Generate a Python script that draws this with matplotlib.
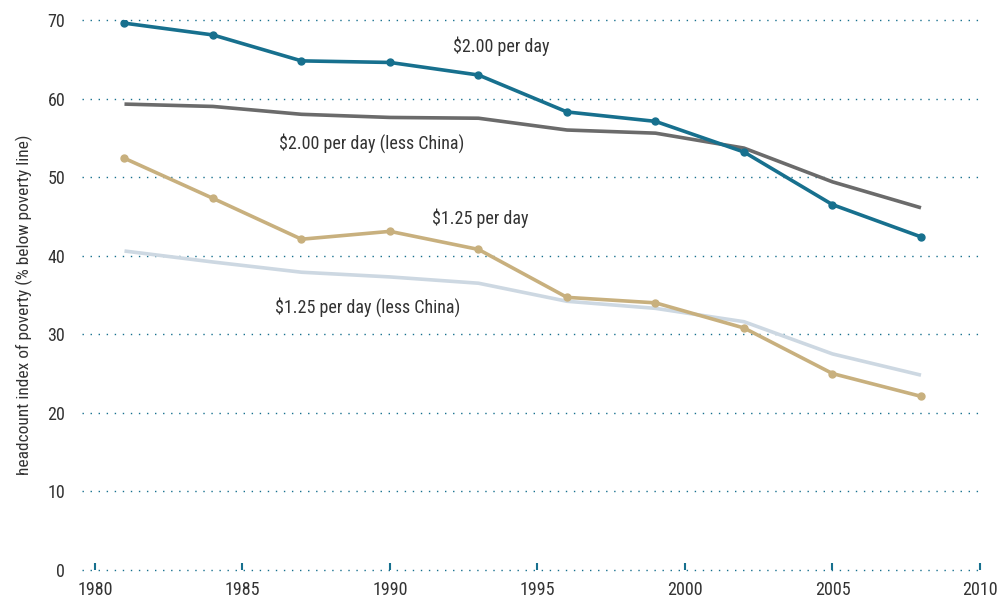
import matplotlib
matplotlib.use("Agg")
import matplotlib.pyplot as plt
from matplotlib import font_manager

# pick a narrow face if there is one
names = {f.name for f in font_manager.fontManager.ttflist}
narrow = [n for n in ["Liberation Sans Narrow", "Roboto Condensed", "Open Sans Condensed"] if n in names]
plt.rcParams['font.family'] = narrow + ['DejaVu Sans']

years = [1981, 1984, 1987, 1990, 1993, 1996, 1999, 2002, 2005, 2008]
usd200 = [69.6, 68.1, 64.8, 64.6, 63.0, 58.3, 57.1, 53.2, 46.5, 42.4]
usd200_xchina = [59.3, 59.0, 58.0, 57.6, 57.5, 56.0, 55.6, 53.7, 49.4, 46.1]
usd125 = [52.4, 47.3, 42.1, 43.1, 40.8, 34.7, 34.0, 30.8, 25.0, 22.1]
usd125_xchina = [40.6, 39.2, 37.9, 37.3, 36.5, 34.2, 33.3, 31.6, 27.5, 24.8]

teal = '#17708e'
grey = '#6b6b6b'
tan = '#c8b07e'
pale = '#cdd8e2'
txt = '#333333'

fig = plt.figure(figsize=(10, 6.05), dpi=100)
ax = fig.add_axes([0.082, 0.0579, 0.898, 0.909])

# dotted gridlines, drawn by hand so the 0 and 70 lines are not clipped
for y in range(0, 80, 10):
    ax.axhline(y, color=teal, lw=1.0, ls=(0, (1, 4.8)), zorder=1, clip_on=False)

ax.plot(years, usd125_xchina, color=pale, lw=2.6, zorder=2, solid_capstyle='butt')
ax.plot(years, usd200_xchina, color=grey, lw=2.6, zorder=2, solid_capstyle='butt')
ax.plot(years, usd125, color=tan, lw=2.6, marker='o', ms=5, zorder=3)
ax.plot(years, usd200, color=teal, lw=2.6, marker='o', ms=5, zorder=3)

lab = dict(color=txt, fontsize=13, ha='center', va='center')
ax.text(1993.76, 66.6, '$2.00 per day', **lab)
ax.text(1989.37, 54.3, '$2.00 per day (less China)', **lab)
ax.text(1993.05, 44.8, '$1.25 per day', **lab)
ax.text(1989.23, 33.5, '$1.25 per day (less China)', **lab)

ax.set_xlim(1979.56, 2010.0)
ax.set_ylim(0, 70)
ax.set_xticks(range(1980, 2011, 5))
ax.set_yticks(range(0, 71, 10))
for s in ax.spines.values():
    s.set_visible(False)
ax.tick_params(axis='x', direction='in', length=5, width=1.5, color=teal,
               labelsize=13, labelcolor=txt, pad=8)
ax.tick_params(axis='y', length=0, labelsize=13, labelcolor=txt, pad=12)
ax.set_ylabel('headcount index of poverty (% below poverty line)', fontsize=12.5,
              color=txt)
ax.yaxis.set_label_coords(-0.0546, 0.482)

fig.savefig('out.png', dpi=100)
